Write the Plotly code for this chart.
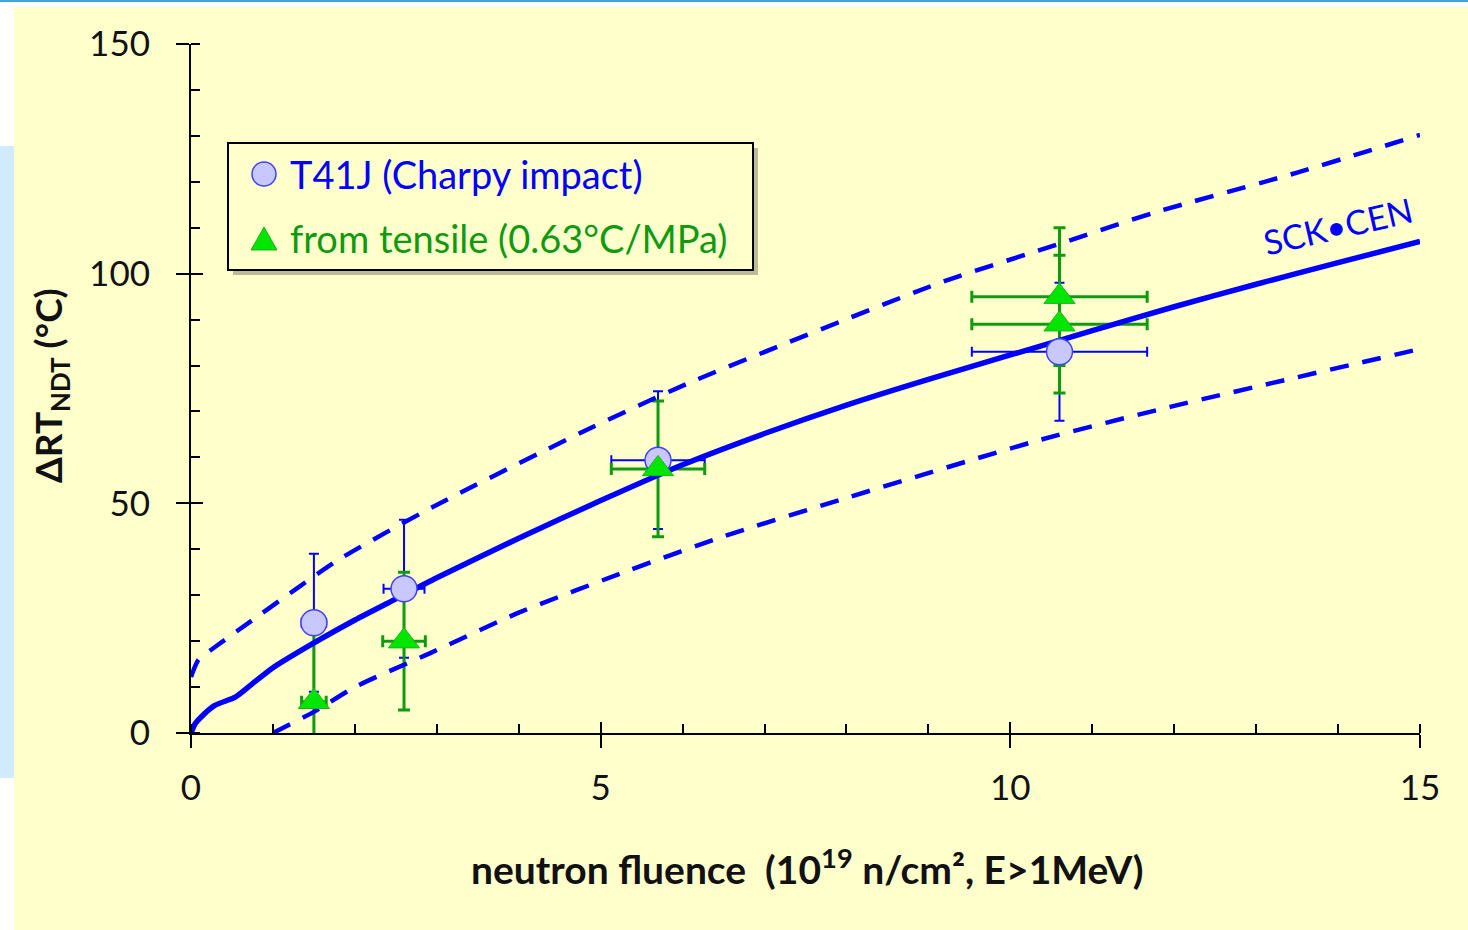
import plotly.graph_objects as go

# ---------------- data ----------------
charpy_x = [1.5, 2.6, 5.7, 10.6]
charpy_y = [24.0, 31.4, 59.4, 83.0]
charpy_ey = [15.0, 15.0, 15.0, 15.0]
charpy_ex = [0.15, 0.25, 0.57, 1.07]

tensile_x = [1.5, 2.6, 5.7, 10.6, 10.6]
tensile_y = [6.8, 20.0, 57.5, 89.0, 95.0]
tensile_ey = [15.0, 15.0, 14.8, 15.0, 15.0]
tensile_ex = [0.15, 0.26, 0.57, 1.07, 1.07]

trend_x = [0, 0.05, 0.13, 0.29, 0.54, 0.74, 1.0, 1.5, 2.0, 2.5, 3.0, 4.0, 5.0, 6.0,
           7.0, 8.0, 9.0, 10.0, 11.0, 12.0, 13.0, 14.0, 15.0]
trend_y = [0, 2.0, 3.6, 6.0, 7.8, 10.6, 14.2, 19.6, 24.6, 29.2, 33.8, 42.4, 50.6, 58.4,
           65.2, 71.4, 77.0, 82.3, 87.6, 92.8, 97.7, 102.4, 107.0]

upper_x = [0, 0.09, 0.33, 0.72, 1.8, 2.95, 4.75, 6.05, 9.14, 10.6, 11.74, 13.5, 15.0]
upper_y = [12.2, 15.9, 19.2, 24.2, 37.7, 49.2, 65.3, 76.0, 98.0, 106.5, 113.2, 122.0, 130.2]

lower_x = [1.0, 1.5, 2.0, 2.92, 4.0, 5.36, 6.5, 8.04, 10.36, 11.95, 15.0]
lower_y = [0.0, 4.6, 10.0, 17.4, 26.2, 35.5, 42.8, 51.4, 63.8, 71.0, 83.6]

x_major = [0, 5, 10, 15]
y_major = [0, 50, 100, 150]

legend_labels = ["T41J (Charpy impact)", "from tensile (0.63°C/MPa)"]
curve_label = "SCK•CEN"

# ---------------- style ----------------
BLUE = "#0000ff"
CIRCLE_FILL = "#c8c8ff"
GREEN = "#109a10"
GREEN_FILL = "#00e600"
CREAM = "#ffffcc"
FONT = "Lato"

W, H = 1468, 930
L, R, T, B = 191, 48, 44, 197
PW, PH = W - L - R, H - T - B


def px(xp):
    return (xp - L) / PW


def py(yp):
    return (H - B - yp) / PH


fig = go.Figure()

# error bars (drawn first, beneath curves and markers)
fig.add_trace(go.Scatter(
    x=charpy_x, y=charpy_y, mode="markers",
    marker=dict(size=1, color="rgba(0,0,0,0)"),
    error_y=dict(type="data", array=charpy_ey, color=BLUE, thickness=2, width=5),
    error_x=dict(type="data", array=charpy_ex, color=BLUE, thickness=2, width=5),
    showlegend=False, hoverinfo="skip"))
fig.add_trace(go.Scatter(
    x=tensile_x, y=tensile_y, mode="markers",
    marker=dict(size=1, color="rgba(0,0,0,0)"),
    error_y=dict(type="data", array=tensile_ey, color=GREEN, thickness=3, width=6),
    error_x=dict(type="data", array=tensile_ex, color=GREEN, thickness=3, width=6),
    showlegend=False, hoverinfo="skip"))

# curves
for xs, ys in ((upper_x, upper_y), (lower_x, lower_y)):
    fig.add_trace(go.Scatter(x=xs, y=ys, mode="lines",
                             line=dict(color=BLUE, width=4.5, dash="19px,14px", shape="spline", smoothing=0.6),
                             showlegend=False, hoverinfo="skip"))
fig.add_trace(go.Scatter(x=trend_x, y=trend_y, mode="lines",
                         line=dict(color=BLUE, width=5.5, shape="spline", smoothing=0.6),
                         showlegend=False, hoverinfo="skip"))

# markers
fig.add_trace(go.Scatter(x=charpy_x, y=charpy_y, mode="markers", name=legend_labels[0],
                         marker=dict(symbol="circle", size=26, color=CIRCLE_FILL,
                                     line=dict(color="#4040ff", width=1.5)),
                         showlegend=False, cliponaxis=False))
fig.add_trace(go.Scatter(x=tensile_x, y=tensile_y, mode="markers", name=legend_labels[1],
                         marker=dict(symbol="triangle-up", size=27, color=GREEN_FILL,
                                     line=dict(color="#20b020", width=1)),
                         showlegend=False, cliponaxis=False))

# empty trace for the overlay axes (crossing major ticks)
fig.add_trace(go.Scatter(x=[], y=[], xaxis="x2", yaxis="y2", showlegend=False))

tickfont = dict(family=FONT, size=35, color="#111111")

fig.update_layout(
    width=W, height=H,
    margin=dict(l=L, r=R, t=T, b=B, autoexpand=False),
    paper_bgcolor="white", plot_bgcolor=CREAM,
    showlegend=False,
    xaxis=dict(range=[0, 15], tickvals=x_major, showgrid=False, zeroline=False,
               showline=True, linecolor="black", linewidth=2,
               ticks="outside", ticklen=13, tickwidth=2, tickcolor="black",
               tickfont=tickfont, ticklabelstandoff=10,
               minor=dict(ticks="inside", dtick=1, ticklen=9, tickwidth=2, tickcolor="black"),
               fixedrange=True),
    yaxis=dict(range=[0, 150], tickvals=y_major, showgrid=False, zeroline=False,
               showline=True, linecolor="black", linewidth=2,
               ticks="outside", ticklen=13, tickwidth=2, tickcolor="black",
               tickfont=tickfont, ticklabelstandoff=19,
               minor=dict(ticks="inside", dtick=10, ticklen=9, tickwidth=2, tickcolor="black"),
               fixedrange=True),
    xaxis2=dict(range=[0, 15], overlaying="x", anchor="y", side="bottom",
                tickvals=x_major, ticks="inside", ticklen=11, tickwidth=2, tickcolor="black",
                showticklabels=False, showgrid=False, zeroline=False, showline=False),
    yaxis2=dict(range=[0, 150], overlaying="y", anchor="x", side="left",
                tickvals=y_major, ticks="inside", ticklen=12, tickwidth=2, tickcolor="black",
                showticklabels=False, showgrid=False, zeroline=False, showline=False),
)

shapes = [
    # page decoration
    dict(type="rect", xref="paper", yref="paper", layer="below",
         x0=px(14), x1=px(W), y0=py(7), y1=py(H), fillcolor=CREAM, line=dict(width=0)),
    dict(type="rect", xref="paper", yref="paper", layer="below",
         x0=px(0), x1=px(14), y0=py(146), y1=py(778), fillcolor="#d0ebfd", line=dict(width=0)),
    dict(type="rect", xref="paper", yref="paper", layer="below",
         x0=px(0), x1=px(W), y0=py(0), y1=py(2), fillcolor="#45a2dc", line=dict(width=0)),
    # legend shadow + box
    dict(type="rect", xref="paper", yref="paper", layer="above",
         x0=px(233), x1=px(758), y0=py(148), y1=py(275),
         fillcolor="rgba(60,60,60,0.35)", line=dict(width=0)),
    dict(type="rect", xref="paper", yref="paper", layer="above",
         x0=px(228), x1=px(753), y0=py(143), y1=py(270),
         fillcolor=CREAM, line=dict(color="black", width=2)),
    # legend symbols
    dict(type="circle", xref="paper", yref="paper", layer="above",
         x0=px(252), x1=px(276), y0=py(186), y1=py(162),
         fillcolor=CIRCLE_FILL, line=dict(color="#4040ff", width=1.5)),
    dict(type="path", xref="paper", yref="paper", layer="above",
         path="M {:.5f},{:.5f} L {:.5f},{:.5f} L {:.5f},{:.5f} Z".format(
             px(251), py(250), px(277), py(250), px(264), py(227)),
         fillcolor=GREEN_FILL, line=dict(color="#20b020", width=1)),
]

annotations = [
    dict(xref="paper", yref="paper", x=px(288), y=py(174), xanchor="left", yanchor="middle",
         text=legend_labels[0], showarrow=False, font=dict(family=FONT, size=38, color=BLUE)),
    dict(xref="paper", yref="paper", x=px(288), y=py(238), xanchor="left", yanchor="middle",
         text=legend_labels[1], showarrow=False, font=dict(family=FONT, size=38, color=GREEN)),
    dict(xref="x", yref="y", x=14.0, y=110.5, text=curve_label, showarrow=False, textangle=-13,
         font=dict(family=FONT, size=34, color=BLUE)),
    dict(xref="paper", yref="paper", x=px(807), y=py(866), xanchor="center", yanchor="middle",
         text="<b>neutron fluence  (10<sup>19</sup> n/cm², E>1MeV)</b>", showarrow=False,
         font=dict(family=FONT, size=39, color="#111111")),
    dict(xref="paper", yref="paper", x=px(50), y=py(386), xanchor="center", yanchor="middle",
         text="<b>ΔRT<sub>NDT</sub> (°C)</b>", showarrow=False, textangle=-90,
         font=dict(family=FONT, size=37, color="#111111")),
]

fig.update_layout(shapes=shapes, annotations=annotations)
fig.write_html("out.html")
